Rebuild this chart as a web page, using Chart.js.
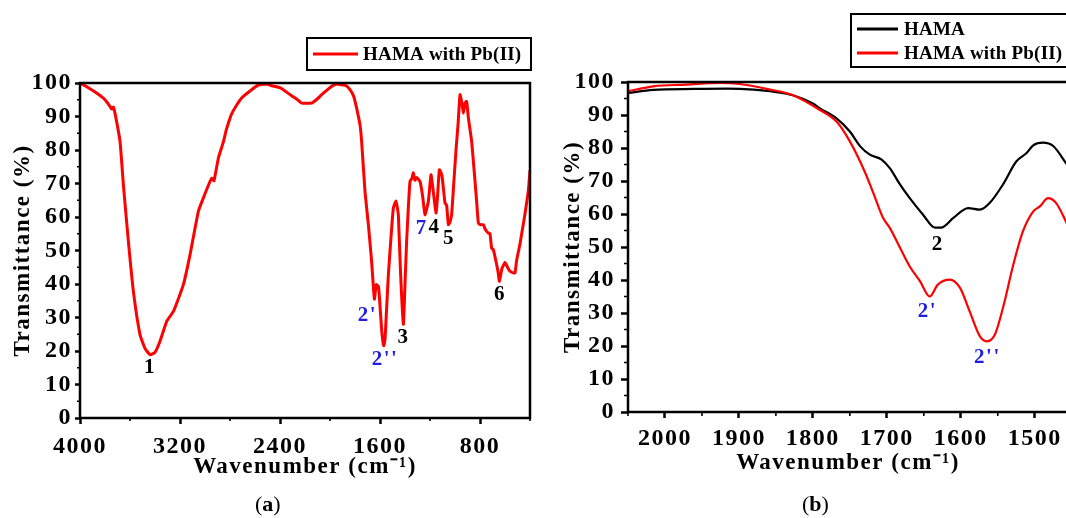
<!DOCTYPE html>
<html>
<head>
<meta charset="utf-8">
<script src="https://cdn.jsdelivr.net/npm/chart.js@4.4.0/dist/chart.umd.min.js"></script>
<style>
  html, body { margin: 0; padding: 0; background: #fff; overflow: hidden; }
  body { width: 1066px; height: 518px; position: relative; }
  canvas { position: absolute; top: 0; }
  #chartA { left: 0; }
  #chartB { left: 540px; }
  .cap { position: absolute; top: 491px; font: 22px "Liberation Serif", serif; color: #000; }
</style>
</head>
<body>
<canvas id="chartA" width="545" height="518"></canvas>
<canvas id="chartB" width="560" height="518"></canvas>
<div class="cap" style="left:255px">(<b>a</b>)</div>
<div class="cap" style="left:802px">(<b>b</b>)</div>
<script>
// panel (a): full spectrum, HAMA with Pb(II)
const wavenumberA = [
  4000, 3933, 3867, 3800, 3760, 3745, 3733, 3720, 3680, 3653,
  3613, 3573, 3520, 3480, 3440, 3400, 3360, 3307, 3253, 3173,
  3120, 3053, 3013, 2960, 2945, 2928, 2893, 2853, 2830, 2800,
  2787, 2750, 2707, 2640, 2573, 2500, 2467, 2400, 2360, 2307,
  2260, 2227, 2147, 2100, 2067, 2020, 1987, 1950, 1907, 1870,
  1840, 1810, 1787, 1760, 1747, 1720, 1693, 1667, 1645, 1630,
  1612, 1600, 1585, 1570, 1560, 1548, 1533, 1510, 1493, 1472,
  1460, 1453, 1435, 1413, 1400, 1387, 1373, 1360, 1345, 1333,
  1320, 1307, 1280, 1260, 1240, 1213, 1192, 1175, 1152, 1140,
  1125, 1105, 1080, 1067, 1053, 1040, 1027, 1010, 992, 975,
  960, 945, 933, 920, 907, 893, 867, 845, 827, 813,
  795, 773, 760, 747, 733, 720, 707, 693, 672, 655,
  645, 625, 600, 580, 560, 533, 520, 507, 480, 440,
  413, 400
];
const transA = [
  100, 98.6, 97, 95, 93, 92.2, 92.8, 91, 82.6, 69.6,
  52.7, 37.8, 24.9, 20.8, 18.9, 19.6, 22.9, 28.8, 31.8, 39.8,
  48.7, 61.7, 65.7, 70.6, 71.6, 70.8, 77.6, 82.4, 86, 89.5,
  90.8, 93.2, 95.5, 97.6, 99.4, 99.6, 99.2, 98.6, 97.6, 96.2,
  95, 94, 94, 95.3, 96.5, 98, 99, 99.6, 99.5, 99.2,
  98, 96, 92.5, 87.5, 82.6, 67.6, 57.7, 46.7, 35.5, 39.8,
  39.2, 33.5, 25.5, 21.6, 23.5, 32, 42.8, 55, 62.7, 64.8,
  62.5, 60.5, 42.8, 28, 40, 52.7, 63, 70.6, 71.5, 73.2,
  71, 71.8, 70.6, 66.5, 60.7, 64.7, 72.6, 68, 61.2, 66,
  74.1, 72.5, 64.2, 63.5, 57.7, 58.5, 60.7, 70, 80, 88,
  96.5, 94, 91, 94, 94.5, 89.6, 82.6, 73, 64.7, 58.2,
  57.7, 57.7, 56.5, 55.7, 55.2, 55, 50.7, 50.2, 46.7, 43.5,
  40.8, 44.5, 46.4, 45, 43.8, 43.3, 43.3, 47, 52, 61,
  68, 74
];
const xTicksA = [4000, 3200, 2400, 1600, 800];
const peakTextA = ['1', "2'", "2''", '3', '7', '4', '5', '6'];
const peakWnA = [3440, 1700, 1560, 1413, 1267, 1165, 1048, 640];
const peakTA = [15, 30.5, 17.4, 23.9, 56.5, 56.7, 53.5, 36.8];

// panel (b): zoom 2050-1455 cm-1
const wavenumberHama = [
  2050, 2016, 1960, 1917, 1880, 1858, 1827, 1800, 1791, 1768,
  1750, 1736, 1723, 1707, 1696, 1682, 1669, 1651, 1635, 1626,
  1610, 1590, 1574, 1561, 1543, 1525, 1511, 1502, 1489, 1475,
  1458, 1450
];
const transHama = [
  96.7, 97.6, 97.9, 98, 97.7, 97.2, 96, 93.5, 92.1, 89,
  85, 80.5, 78, 76.5, 73.9, 68.9, 64.8, 59.8, 55.9, 55.9,
  58.8, 61.8, 61.3, 63.3, 68.9, 75.9, 78.5, 80.8, 81.6, 80.6,
  75.5, 73
];
const wavenumberPb = [
  2050, 2016, 1971, 1926, 1899, 1858, 1827, 1791, 1768, 1750,
  1730, 1719, 1705, 1696, 1682, 1669, 1655, 1642, 1631, 1615,
  1601, 1588, 1574, 1565, 1554, 1543, 1529, 1516, 1502, 1493,
  1482, 1471, 1458, 1450
];
const transPb = [
  97.2, 98.7, 99.2, 99.7, 99.4, 97.7, 96, 91.6, 88, 82,
  72.9, 66.8, 58.8, 55.8, 49.7, 44.1, 39.6, 35, 38.6, 40.1,
  37.6, 30.5, 22.9, 21.4, 23.4, 31.5, 44.6, 54.7, 60.8, 62.3,
  64.8, 63.3, 57.8, 54
];
const xTicksB = [2000, 1900, 1800, 1700, 1600, 1500];
const peakTextB = ['2', "2'", "2''"];
const peakWnB = [1631, 1645, 1564];
const peakTB = [50.7, 30.4, 16.5];

const RED = '#ff0000';
const BLUE = '#1e1ee6';
const SERIF = '"Liberation Serif", "Times New Roman", serif';

Chart.defaults.font.family = SERIF;
Chart.defaults.font.weight = 'bold';
Chart.defaults.color = '#000';

const toPoints = (xs, ys) => xs.map((x, i) => ({ x: x, y: ys[i] }));

// frame, minor ticks, peak numbers and boxed legend
const extras = {
  id: 'extras',
  beforeDraw(chart) {
    chart.ctx.letterSpacing = '1.5px';
  },
  afterDraw(chart, args, o) {
    const ctx = chart.ctx;
    const xs = chart.scales.x, ys = chart.scales.y;
    const a = chart.chartArea;
    ctx.save();
    ctx.strokeStyle = '#000';
    ctx.lineWidth = 1.6;
    ctx.beginPath();
    o.minorX.forEach(v => {
      const p = xs.getPixelForValue(v);
      ctx.moveTo(p, a.bottom); ctx.lineTo(p, a.bottom + o.minorLen);
    });
    o.minorY.forEach(v => {
      const p = ys.getPixelForValue(v);
      ctx.moveTo(a.left, p); ctx.lineTo(a.left - o.minorLen, p);
    });
    ctx.stroke();

    ctx.lineWidth = 2.5;
    ctx.strokeRect(a.left, a.top, a.right - a.left, a.bottom - a.top);

    ctx.font = 'bold 21px ' + SERIF;
    ctx.textAlign = 'center';
    ctx.textBaseline = 'middle';
    o.peaks.text.forEach((t, i) => {
      ctx.fillStyle = o.peaks.colors[i];
      ctx.fillText(t, xs.getPixelForValue(o.peaks.wn[i]), ys.getPixelForValue(o.peaks.t[i]));
    });

    const L = o.legend;
    ctx.letterSpacing = '0.2px';
    ctx.font = 'bold 19px ' + SERIF;
    ctx.lineWidth = 2;
    ctx.strokeStyle = '#000';
    ctx.strokeRect(L.x, L.y, L.w, L.h);
    ctx.textAlign = 'left';
    chart.data.datasets.forEach((ds, i) => {
      const y = L.rows[i];
      ctx.strokeStyle = ds.borderColor;
      ctx.lineWidth = 3;
      ctx.beginPath();
      ctx.moveTo(L.x1, y); ctx.lineTo(L.x2, y);
      ctx.stroke();
      ctx.fillStyle = '#000';
      ctx.fillText(ds.label, L.tx, y + 1);
    });
    ctx.restore();
  }
};

function yAxis(width, tickLen, pad) {
  return {
    min: 0, max: 100,
    ticks: { stepSize: 10, padding: pad, font: { size: 24 }, callback: v => String(v) },
    grid: { drawOnChartArea: false, tickLength: tickLen, tickWidth: 2.5, tickColor: '#000' },
    border: { display: false },
    title: { display: true, text: 'Transmittance (%)', font: { size: 23 }, padding: 0 },
    afterFit: s => { s.width = width; }
  };
}

function xAxis(min, max, ticks, height, tickLen, pad) {
  return {
    type: 'linear', reverse: true, min: min, max: max,
    afterBuildTicks: s => { s.ticks = ticks.map(v => ({ value: v })); },
    ticks: { padding: pad, font: { size: 24 }, maxRotation: 0, autoSkip: false, callback: v => String(v) },
    grid: { drawOnChartArea: false, tickLength: tickLen, tickWidth: 2.5, tickColor: '#000' },
    border: { display: false },
    title: { display: true, text: 'Wavenumber (cm\u207B\u00B9)', font: { size: 23 }, padding: 0 },
    afterFit: s => { s.height = height; }
  };
}

const minorY = [5, 15, 25, 35, 45, 55, 65, 75, 85, 95];

new Chart(document.getElementById('chartA'), {
  type: 'line',
  data: {
    datasets: [{
      label: 'HAMA with Pb(II)',
      data: toPoints(wavenumberA, transA),
      borderColor: RED, borderWidth: 3, pointRadius: 0, tension: 0.15, fill: false
    }]
  },
  options: {
    responsive: false, animation: false,
    layout: { padding: { left: 9, top: 83, right: 15, bottom: 37 } },
    scales: {
      x: xAxis(400, 4000, xTicksA, 63, 6, 8),
      y: yAxis(71, 5, 3)
    },
    plugins: {
      legend: { display: false }, tooltip: { enabled: false },
      extras: {
        minorX: [3600, 2800, 2000, 1200, 400], minorY: minorY, minorLen: 3,
        peaks: { text: peakTextA, wn: peakWnA, t: peakTA,
                 colors: ['#000', BLUE, BLUE, '#000', BLUE, '#000', '#000', '#000'] },
        legend: { x: 307, y: 38, w: 224, h: 32, rows: [54], x1: 313, x2: 358, tx: 363 }
      }
    }
  },
  plugins: [extras]
});

new Chart(document.getElementById('chartB'), {
  type: 'line',
  data: {
    datasets: [{
      label: 'HAMA',
      data: toPoints(wavenumberHama, transHama),
      borderColor: '#000', borderWidth: 2.2, pointRadius: 0,
      cubicInterpolationMode: 'monotone', fill: false, order: 2
    }, {
      label: 'HAMA with Pb(II)',
      data: toPoints(wavenumberPb, transPb),
      borderColor: RED, borderWidth: 2.2, pointRadius: 0,
      cubicInterpolationMode: 'monotone', fill: false, order: 1
    }]
  },
  options: {
    responsive: false, animation: false,
    layout: { padding: { left: 19, top: 82, right: 32, bottom: 41 } },
    scales: {
      x: xAxis(1455, 2050, xTicksB, 65, 6, 6),
      y: yAxis(69, 7, 6)
    },
    plugins: {
      legend: { display: false }, tooltip: { enabled: false },
      extras: {
        minorX: [2050, 1950, 1850, 1750, 1650, 1550], minorY: minorY, minorLen: 4,
        peaks: { text: peakTextB, wn: peakWnB, t: peakTB, colors: ['#000', BLUE, BLUE] },
        legend: { x: 311, y: 14, w: 224, h: 53, rows: [29, 53], x1: 317, x2: 358, tx: 364 }
      }
    }
  },
  plugins: [extras]
});
</script>
</body>
</html>
